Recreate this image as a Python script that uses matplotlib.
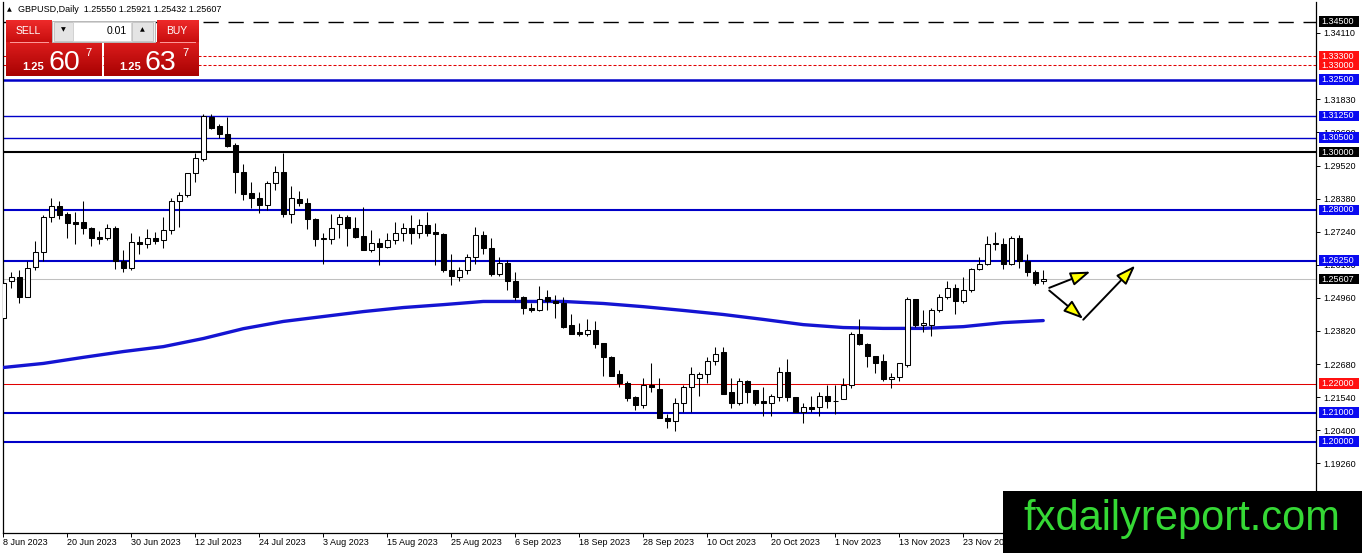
import numpy as np
import matplotlib
matplotlib.use('Agg')
import matplotlib.pyplot as plt
import matplotlib.transforms as mtransforms
from matplotlib.patches import Rectangle
from matplotlib.colors import LinearSegmentedColormap

plt.rcParams['font.family'] = ['Liberation Sans', 'DejaVu Sans']

# daily GBPUSD candles, bar 0 = 8 Jun 2023
opens = [1.2428, 1.2553, 1.2570, 1.2501, 1.2604, 1.2656, 1.2777, 1.2815, 1.2787, 1.2760,
         1.2760, 1.2739, 1.2708, 1.2704, 1.2739, 1.2625, 1.2601, 1.2691, 1.2684, 1.2704,
         1.2697, 1.2732, 1.2832, 1.2850, 1.2926, 1.2977, 1.3122, 1.3091, 1.3063, 1.3025,
         1.2932, 1.2860, 1.2842, 1.2818, 1.2894, 1.2932, 1.2787, 1.2839, 1.2825, 1.2770,
         1.2701, 1.2701, 1.2753, 1.2777, 1.2739, 1.2711, 1.2663, 1.2687, 1.2673, 1.2697,
         1.2722, 1.2739, 1.2722, 1.2749, 1.2725, 1.2718, 1.2594, 1.2570, 1.2594, 1.2636,
         1.2715, 1.2667, 1.2580, 1.2618, 1.2556, 1.2501, 1.2463, 1.2453, 1.2501, 1.2484,
         1.2480, 1.2401, 1.2380, 1.2373, 1.2384, 1.2339, 1.2291, 1.2235, 1.2201, 1.2153,
         1.2125, 1.2197, 1.2183, 1.2083, 1.2070, 1.2132, 1.2190, 1.2218, 1.2232, 1.2280,
         1.2308, 1.2170, 1.2132, 1.2208, 1.2177, 1.2139, 1.2132, 1.2153, 1.2242, 1.2153,
         1.2104, 1.2118, 1.2118, 1.2156, 1.2142, 1.2146, 1.2194, 1.2373, 1.2336, 1.2294,
         1.2277, 1.2215, 1.2222, 1.2266, 1.2491, 1.2404, 1.2404, 1.2453, 1.2498, 1.2532,
         1.2484, 1.2525, 1.2597, 1.2615, 1.2684, 1.2684, 1.2615, 1.2704, 1.2622, 1.2584,
         1.2555]
highs = [1.2553, 1.2587, 1.2594, 1.2622, 1.2694, 1.2784, 1.2842, 1.2832, 1.2794, 1.2794,
         1.2832, 1.2742, 1.2729, 1.2753, 1.2746, 1.2663, 1.2722, 1.2711, 1.2735, 1.2725,
         1.2777, 1.2842, 1.2863, 1.2929, 1.2995, 1.3132, 1.3132, 1.3098, 1.3122, 1.3032,
         1.2960, 1.2898, 1.2863, 1.2901, 1.2953, 1.2995, 1.2884, 1.2867, 1.2842, 1.2773,
         1.2722, 1.2787, 1.2787, 1.2784, 1.2777, 1.2811, 1.2732, 1.2704, 1.2722, 1.2760,
         1.2756, 1.2784, 1.2767, 1.2794, 1.2756, 1.2722, 1.2649, 1.2604, 1.2649, 1.2742,
         1.2729, 1.2704, 1.2639, 1.2628, 1.2584, 1.2504, 1.2477, 1.2539, 1.2525, 1.2508,
         1.2498, 1.2442, 1.2411, 1.2422, 1.2418, 1.2342, 1.2294, 1.2249, 1.2208, 1.2159,
         1.2218, 1.2270, 1.2218, 1.2094, 1.2149, 1.2197, 1.2259, 1.2239, 1.2291, 1.2328,
         1.2328, 1.2218, 1.2218, 1.2214, 1.2177, 1.2187, 1.2166, 1.2256, 1.2284, 1.2153,
         1.2135, 1.2159, 1.2170, 1.2194, 1.2194, 1.2221, 1.2377, 1.2425, 1.2342, 1.2297,
         1.2304, 1.2237, 1.2273, 1.2498, 1.2494, 1.2456, 1.2463, 1.2511, 1.2556, 1.2546,
         1.2570, 1.2601, 1.2639, 1.2711, 1.2725, 1.2704, 1.2711, 1.2715, 1.2649, 1.2591,
         1.2592]
lows = [1.2425, 1.2529, 1.2480, 1.2498, 1.2591, 1.2625, 1.2760, 1.2767, 1.2704, 1.2684,
        1.2718, 1.2677, 1.2684, 1.2697, 1.2597, 1.2584, 1.2594, 1.2649, 1.2670, 1.2684,
        1.2670, 1.2718, 1.2742, 1.2846, 1.2898, 1.2970, 1.3081, 1.3050, 1.3018, 1.2860,
        1.2835, 1.2808, 1.2791, 1.2801, 1.2870, 1.2777, 1.2756, 1.2815, 1.2735, 1.2677,
        1.2615, 1.2684, 1.2704, 1.2677, 1.2704, 1.2660, 1.2656, 1.2611, 1.2670, 1.2684,
        1.2694, 1.2684, 1.2704, 1.2711, 1.2611, 1.2584, 1.2542, 1.2556, 1.2580, 1.2615,
        1.2649, 1.2573, 1.2573, 1.2525, 1.2490, 1.2439, 1.2446, 1.2451, 1.2456, 1.2428,
        1.2394, 1.2370, 1.2366, 1.2363, 1.2325, 1.2228, 1.2225, 1.2187, 1.2142, 1.2108,
        1.2115, 1.2173, 1.2080, 1.2046, 1.2035, 1.2104, 1.2104, 1.2159, 1.2204, 1.2263,
        1.2163, 1.2115, 1.2128, 1.2132, 1.2125, 1.2087, 1.2090, 1.2139, 1.2139, 1.2101,
        1.2063, 1.2104, 1.2087, 1.2115, 1.2097, 1.2146, 1.2184, 1.2332, 1.2259, 1.2236,
        1.2211, 1.2184, 1.2208, 1.2259, 1.2397, 1.2377, 1.2366, 1.2449, 1.2494, 1.2442,
        1.2480, 1.2518, 1.2591, 1.2611, 1.2663, 1.2597, 1.2611, 1.2601, 1.2573, 1.2542,
        1.2543]
closes = [1.2549, 1.2570, 1.2501, 1.2601, 1.2656, 1.2777, 1.2815, 1.2784, 1.2756, 1.2753,
          1.2739, 1.2704, 1.2701, 1.2739, 1.2625, 1.2601, 1.2691, 1.2684, 1.2704, 1.2694,
          1.2732, 1.2832, 1.2853, 1.2926, 1.2981, 1.3125, 1.3084, 1.3063, 1.3022, 1.2932,
          1.2856, 1.2842, 1.2818, 1.2894, 1.2932, 1.2787, 1.2842, 1.2825, 1.2770, 1.2701,
          1.2703, 1.2739, 1.2777, 1.2739, 1.2708, 1.2663, 1.2687, 1.2673, 1.2697, 1.2722,
          1.2739, 1.2722, 1.2749, 1.2722, 1.2718, 1.2591, 1.2573, 1.2594, 1.2636, 1.2715,
          1.2667, 1.2580, 1.2618, 1.2553, 1.2498, 1.2460, 1.2453, 1.2494, 1.2487, 1.2480,
          1.2397, 1.2373, 1.2373, 1.2384, 1.2336, 1.2291, 1.2228, 1.2201, 1.2149, 1.2125,
          1.2197, 1.2190, 1.2083, 1.2070, 1.2132, 1.2190, 1.2235, 1.2232, 1.2280, 1.2304,
          1.2166, 1.2132, 1.2211, 1.2173, 1.2132, 1.2135, 1.2156, 1.2239, 1.2153, 1.2104,
          1.2118, 1.2111, 1.2156, 1.2139, 1.2139, 1.2194, 1.2373, 1.2336, 1.2294, 1.2273,
          1.2215, 1.2222, 1.2270, 1.2491, 1.2404, 1.2408, 1.2456, 1.2498, 1.2532, 1.2484,
          1.2525, 1.2597, 1.2615, 1.2684, 1.2687, 1.2615, 1.2704, 1.2622, 1.2584, 1.2549,
          1.2561]

# moving average read every 5 bars
ma_bars = list(range(0, 131, 5))
ma_values = [1.2256, 1.2270, 1.2291, 1.2311, 1.2328, 1.2356, 1.2390, 1.2415, 1.2432,
             1.2449, 1.2463, 1.2473, 1.2484, 1.2484, 1.2484, 1.2477, 1.2466, 1.2453,
             1.2439, 1.2422, 1.2404, 1.2394, 1.2391, 1.2391, 1.2397, 1.2411, 1.2418]

date_labels = ['8 Jun 2023', '20 Jun 2023', '30 Jun 2023', '12 Jul 2023', '24 Jul 2023',
               '3 Aug 2023', '15 Aug 2023', '25 Aug 2023', '6 Sep 2023', '18 Sep 2023',
               '28 Sep 2023', '10 Oct 2023', '20 Oct 2023', '1 Nov 2023', '13 Nov 2023',
               '23 Nov 2023']

price_ticks = [1.34110, 1.31830, 1.30690, 1.29520, 1.28380, 1.27240, 1.26100, 1.24960,
               1.23820, 1.22680, 1.21540, 1.20400, 1.19260, 1.18120]

level_prices = [1.34500, 1.33300, 1.33000, 1.32500, 1.31250, 1.30500, 1.30000,
                1.28000, 1.26250, 1.25607, 1.22000, 1.21000, 1.20000]

# drawn arrows (start bar, start price, end bar, end price)
arrows = [(130.75, 1.2531, 135.9, 1.2587),
          (130.75, 1.2522, 135.0, 1.2424),
          (135.0, 1.2421, 141.5, 1.2608)]

BLUE = '#0000c8'
RED = '#e00000'
level_styles = [
    ('black', 1.0, (0, (11, 7)), 'black'),
    (RED, 0.75, (0, (2.9, 1.9)), '#ff1010'),
    (RED, 0.75, (0, (2.9, 1.9)), '#ff1010'),
    (BLUE, 1.8, '-', '#0a0af0'),
    (BLUE, 1.0, '-', '#0a0af0'),
    (BLUE, 1.0, '-', '#0a0af0'),
    ('black', 1.5, '-', 'black'),
    (BLUE, 1.5, '-', '#0a0af0'),
    (BLUE, 1.5, '-', '#0a0af0'),
    ('#c0c0c0', 0.75, '-', 'black'),
    (RED, 0.75, '-', '#ff1010'),
    (BLUE, 1.5, '-', '#0a0af0'),
    (BLUE, 1.5, '-', '#0a0af0'),
]

W, H = 1362, 553
fig = plt.figure(figsize=(W / 100, H / 100), dpi=100)
fig.patch.set_facecolor('white')

ax_l, ax_r, ax_t, ax_b = 3, 1316, 2, 533
ax = fig.add_axes([ax_l / W, (H - ax_b) / H, (ax_r - ax_l) / W, (ax_b - ax_t) / H])
ax.set_zorder(1)
ax.set_xlim(-0.04, 164.1)
ax.set_ylim(1.16845, 1.3518)

# horizontal levels
for p, (c, lw, ls, bg) in zip(level_prices, level_styles):
    ax.axhline(p, color=c, lw=lw, ls=ls, zorder=2)

# moving average
ax.plot(ma_bars, ma_values, color='#1414d2', lw=2.4, zorder=3, solid_capstyle='round')

# candles
x = np.arange(len(opens))
o = np.array(opens); c = np.array(closes)
ax.vlines(x, lows, highs, color='black', lw=0.75, zorder=4)
up = c >= o
body_lo = np.minimum(o, c)
body_h = np.abs(c - o)
ax.bar(x[up], body_h[up], bottom=body_lo[up], width=0.62, color='white',
       edgecolor='black', linewidth=0.75, zorder=5)
ax.bar(x[~up], body_h[~up], bottom=body_lo[~up], width=0.62, color='black',
       edgecolor='black', linewidth=0.75, zorder=5)

# arrows
for x0, y0, x1, y1 in arrows:
    ax.annotate('', xy=(x1, y1), xytext=(x0, y0),
                arrowprops=dict(arrowstyle='-|>,head_length=1.2,head_width=0.42',
                                fc='#ffff00', ec='black', lw=1.4,
                                shrinkA=0, shrinkB=0, mutation_scale=10),
                zorder=6)

# axes style
for s in ['left', 'bottom', 'right']:
    ax.spines[s].set_color('black')
    ax.spines[s].set_linewidth(0.9)
ax.spines['top'].set_visible(False)
ax.yaxis.tick_right()
ax.set_yticks(price_ticks)
ax.set_yticklabels([f'{v:.5f}' for v in price_ticks])
ax.set_xticks(np.arange(0, 121, 8))
ax.set_xticklabels(date_labels)
for lbl in ax.get_xticklabels():
    lbl.set_horizontalalignment('left')
ax.tick_params(axis='both', length=3, width=0.7, labelsize=6.5, colors='black', pad=2)
ax.tick_params(axis='x', pad=0.8)

# highlighted price labels on the scale
tr = mtransforms.blended_transform_factory(ax.transAxes, ax.transData)
bx0 = (1319 - ax_l) / (ax_r - ax_l)
bw = 40 / (ax_r - ax_l)
bh = 10.5 / 2895
for p, (c_, lw, ls, bg) in zip(level_prices, level_styles):
    ax.add_patch(Rectangle((bx0, p - bh / 2), bw, bh, transform=tr, fc=bg, ec='none',
                           clip_on=False, zorder=7))
for p, (c_, lw, ls, bg) in zip(level_prices, level_styles):
    ax.text(bx0 + 2.5 / (ax_r - ax_l), p, f'{p:.5f}', transform=tr, color='white',
            fontsize=6.5, va='center', ha='left', clip_on=False, zorder=8)

# overlay in pixel coordinates for panel, header and watermark
ov = fig.add_axes([0, 0, 1, 1])
ov.set_zorder(5)
ov.patch.set_alpha(0)
ov.axis('off')

def grad_box(x0, y0, x1, y1, top, bottom):
    cmap = LinearSegmentedColormap.from_list('g', [top, bottom])
    ov.imshow(np.linspace(0, 1, 60).reshape(-1, 1), cmap=cmap, aspect='auto',
              extent=(x0, x1, y1, y0), zorder=2, interpolation='bilinear')

grad_box(6, 20, 52, 42, '#ee2a2a', '#c80e0e')
grad_box(157, 20, 199, 42, '#ee2a2a', '#c80e0e')
grad_box(6, 42, 102, 76, '#dc1c1c', '#a80202')
grad_box(104, 42, 199, 76, '#dc1c1c', '#a80202')
ov.add_patch(Rectangle((52, 20.5), 103, 21, fc='#f2f2f2', ec='#b8b8b8', lw=0.7, zorder=2))
ov.add_patch(Rectangle((53.5, 21.5), 19, 19, fc='#e4e4e4', ec='#c0c0c0', lw=0.6, zorder=3))
ov.add_patch(Rectangle((73, 21.5), 58, 19, fc='white', ec='#d0d0d0', lw=0.6, zorder=3))
ov.add_patch(Rectangle((131.5, 21.5), 21, 19, fc='#e4e4e4', ec='#c0c0c0', lw=0.6, zorder=3))
ov.plot([10, 48], [41.6, 41.6], color='#ff9c9c', lw=0.7, zorder=4)
ov.plot([160, 195], [41.6, 41.6], color='#ff9c9c', lw=0.7, zorder=4)

ov.text(28, 31, 'SELL', color='white', fontsize=7.5, ha='center', va='center', zorder=5)
ov.text(177, 31, 'BUY', color='white', fontsize=7.5, ha='center', va='center', zorder=5)
ov.text(127, 31, '0.01', color='black', fontsize=7.5, ha='right', va='center', zorder=5)
ov.text(63, 30, '▼', color='black', fontsize=4.5, ha='center', va='center', zorder=5,
        family=['DejaVu Sans'])
ov.text(142, 30, '▲', color='black', fontsize=4.5, ha='center', va='center', zorder=5,
        family=['DejaVu Sans'])
for x0, big in [(22, '60'), (119, '63')]:
    ov.text(x0, 70, '1.25', color='white', fontsize=8, fontweight='bold', ha='left',
            va='baseline', zorder=5)
    ov.text(x0 + 26, 70.5, big, color='white', fontsize=20.5, ha='left', va='baseline',
            zorder=5)
    ov.text(x0 + 63, 56, '7', color='white', fontsize=8, ha='left', va='baseline', zorder=5)

ov.text(7, 10, '▲', color='black', fontsize=4.5, ha='left', va='center',
        family=['DejaVu Sans'])
ov.text(18, 10, 'GBPUSD,Daily  1.25550 1.25921 1.25432 1.25607', color='black',
        fontsize=6.5, ha='left', va='center')

ov.add_patch(Rectangle((1003, 491), W - 1003, H - 491, fc='black', ec='none', zorder=8))
ov.text(1182, 519, 'fxdailyreport.com', color='#35d835', fontsize=30, ha='center',
        va='center', zorder=9)

ov.set_xlim(0, W)
ov.set_ylim(H, 0)

fig.savefig('out.png', dpi=100)
